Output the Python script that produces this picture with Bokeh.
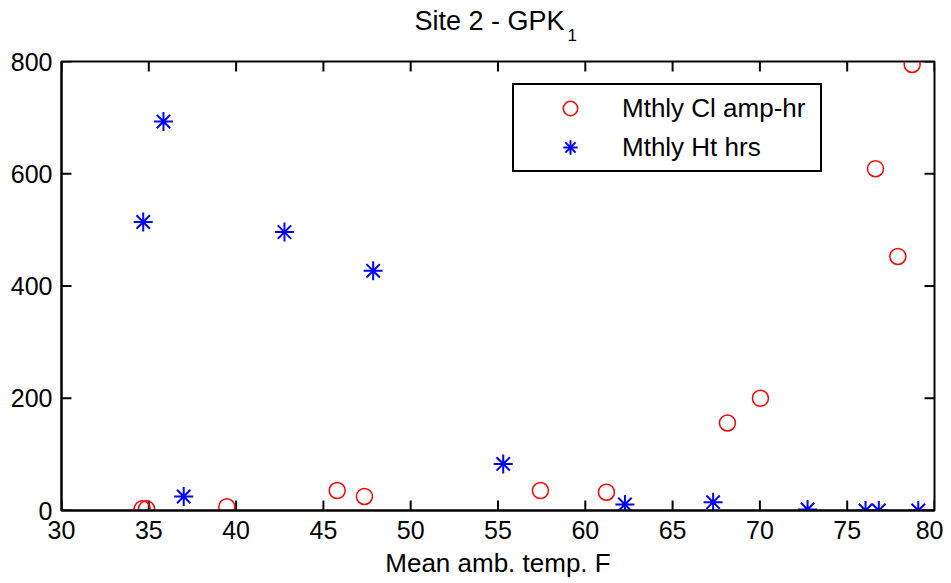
from bokeh.plotting import figure
from bokeh.models import Range1d, LinearAxis, FixedTicker, Title, Legend, LegendItem
from bokeh.embed import file_html
from bokeh.resources import INLINE

# Data
cl_temp = [34.62, 34.87, 39.47, 45.79, 47.35, 57.43, 61.21, 68.14, 70.03, 76.62, 77.90, 78.72]
cl_amp_hr = [3, 3, 6.6, 35.6, 25, 35.6, 32.6, 156, 200, 609, 452.6, 794.7]

ht_temp = [34.68, 35.84, 37.00, 42.77, 47.85, 55.30, 62.27, 67.32, 72.73, 76.05, 76.81, 79.07]
ht_hrs = [514, 693, 25, 496, 427, 83, 10.7, 14.8, 1.8, 0, 0, 0]

x_ticks = [30, 35, 40, 45, 50, 55, 60, 65, 70, 75, 80]
y_ticks = [0, 200, 400, 600, 800]

title_main = "Site 2 - GPK"
title_sub = "1"
x_label = "Mean amb. temp. F"
series_names = ["Mthly Cl amp-hr", "Mthly Ht hrs"]

FONT = "Liberation Sans"
X0, X1, Y0, Y1 = 30, 80, 0, 800

W, H = 943, 583
BL, BR, BT, BB = 61, 9, 61, 73
FW, FH = W - BL - BR, H - BT - BB
TICK_PX = 10

p = figure(width=W, height=H, x_range=Range1d(X0, X1), y_range=Range1d(Y0, Y1),
           output_backend="svg", toolbar_location=None,
           min_border_left=BL, min_border_right=BR, min_border_top=BT, min_border_bottom=BB,
           x_axis_location=None, y_axis_location=None)
p.xgrid.visible = False
p.ygrid.visible = False
p.outline_line_color = "black"
p.outline_line_width = 2
p.outline_line_alpha = 1
p.background_fill_color = "white"
p.border_fill_color = "white"

def style_axis(ax, ticks):
    ax.ticker = FixedTicker(ticks=ticks)
    ax.major_tick_in = 0
    ax.major_tick_out = 0
    ax.minor_tick_in = 0
    ax.minor_tick_out = 0
    ax.axis_line_color = "black"
    ax.axis_line_width = 2
    ax.major_label_text_font = FONT
    ax.major_label_text_font_size = "25px"
    ax.major_label_text_color = "black"

xb = LinearAxis(axis_label=x_label)
style_axis(xb, x_ticks)
xb.major_label_standoff = 10
xb.axis_label_standoff = 6
xb.axis_label_text_font = FONT
xb.axis_label_text_font_size = "26px"
xb.axis_label_text_font_style = "normal"
xb.axis_label_text_color = "black"
p.add_layout(xb, "below")

yl = LinearAxis()
style_axis(yl, y_ticks)
yl.major_label_standoff = 9
p.add_layout(yl, "left")

# inward tick marks on all four sides, drawn at the tick values
tx = TICK_PX * (X1 - X0) / FW
ty = TICK_PX * (Y1 - Y0) / FH
nx, ny = len(x_ticks), len(y_ticks)
tick_style = dict(line_color="black", line_width=2)
p.segment(x0=x_ticks, y0=[Y0] * nx, x1=x_ticks, y1=[Y0 + ty] * nx, **tick_style)
p.segment(x0=x_ticks, y0=[Y1] * nx, x1=x_ticks, y1=[Y1 - ty] * nx, **tick_style)
p.segment(x0=[X0] * ny, y0=y_ticks, x1=[X0 + tx] * ny, y1=y_ticks, **tick_style)
p.segment(x0=[X1] * ny, y0=y_ticks, x1=[X1 - tx] * ny, y1=y_ticks, **tick_style)

r1 = p.scatter(cl_temp, cl_amp_hr, marker="circle", size=16, fill_color=None,
               line_color="#ff0000", line_width=1.5)
r2 = p.scatter(ht_temp, ht_hrs, marker="asterisk", size=19,
               line_color="#0000ff", line_width=2)

legend = Legend(items=[LegendItem(label=series_names[0], renderers=[r1]),
                       LegendItem(label=series_names[1], renderers=[r2])],
                location=(451, 338))
legend.padding = 5
legend.spacing = 3
legend.margin = 0
legend.label_height = 36
legend.glyph_height = 36
legend.glyph_width = 102
legend.label_standoff = 1
legend.label_width = 193
legend.label_text_font = FONT
legend.label_text_font_size = "26px"
legend.label_text_color = "black"
legend.border_line_color = "black"
legend.border_line_width = 2
legend.border_line_alpha = 1
legend.background_fill_color = "white"
legend.background_fill_alpha = 1
p.add_layout(legend, "center")

t_sub = Title(text=title_sub, align="left", offset=506, standoff=42,
              text_font=FONT, text_font_size="17px", text_font_style="normal", text_color="black")
t_main = Title(text=title_main, align="left", offset=353, standoff=-60,
               text_font=FONT, text_font_size="27px", text_font_style="normal", text_color="black")
p.add_layout(t_sub, "above")
p.add_layout(t_main, "above")

open("out.html", "w").write(file_html(p, INLINE))
